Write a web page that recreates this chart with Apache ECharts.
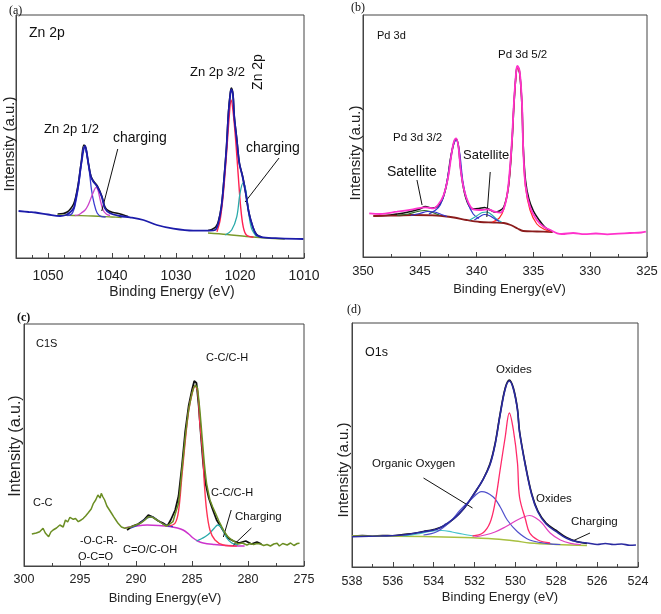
<!DOCTYPE html>
<html><head><meta charset="utf-8">
<script src="https://cdn.jsdelivr.net/npm/echarts@6/dist/echarts.min.js"></script>
<style>html,body{margin:0;padding:0;background:#fff}#c{width:661px;height:614px}</style>
</head><body><div id="c"></div>
<script>
// ---------- Panel (a) Zn 2p ----------
const aRaw1 = [[1048.5,44],[1047.6,44.5],[1047.0,46],[1046.5,49],[1046.0,54],[1045.7,60],[1045.3,73],[1044.8,96],[1044.4,113],[1044.1,110],[1043.7,95],[1043.3,82],[1042.9,77],[1042.3,72],[1041.6,62],[1041.1,51],[1040.5,47],[1039.8,45.5],[1039.0,44.5],[1038.2,43],[1037.5,41.5]];
const aRaw2 = [[1025.0,27.5],[1024.4,28.5],[1023.8,31],[1023.4,36],[1022.9,52],[1022.5,79],[1022.1,112],[1021.8,146],[1021.5,166],[1021.35,170],[1021.1,164],[1020.9,142],[1020.5,119],[1020.1,95],[1019.6,82],[1019.1,65],[1018.6,45],[1018.0,31],[1017.4,23.5],[1016.6,21]];
const aEnvelope = [[1054.6,47],[1053,46],[1052,45.5],[1050,43.5],[1048.1,42],[1047.2,43],[1046.6,45.5],[1046.0,49.7],[1045.8,55],[1045.3,71.3],[1044.8,94.7],[1044.2,112.3],[1043.7,94.7],[1043.3,81.3],[1042.9,76.3],[1042.3,71.3],[1041.6,61.3],[1041.1,49.7],[1040.3,44.7],[1038.8,42],[1037.2,40.7],[1035.1,38],[1033.0,33],[1030.4,29.3],[1027.3,27.3],[1024.7,27.3],[1023.9,28],[1023.4,34.7],[1022.9,51.3],[1022.5,78],[1022.1,111.3],[1021.8,144.7],[1021.5,164.7],[1021.35,168.7],[1021.1,163],[1020.9,141.3],[1020.5,118],[1020.1,94.7],[1019.6,81.3],[1019.1,64.7],[1018.6,44.7],[1018.0,31.3],[1017.4,23],[1016.4,20.7],[1013.75,19.7],[1010.1,19]];
const aBlueComp = [[1047.0,42.5],[1046.3,44],[1045.8,52],[1045.3,69],[1044.8,93],[1044.4,111],[1044.1,108],[1043.7,95],[1043.5,84.7],[1043.2,68],[1042.8,54.7],[1042.3,44.7],[1041.6,41.3],[1041.0,41]];
const aMagenta = [[1045.8,42.5],[1045.3,43],[1044.8,45],[1044.2,48],[1043.8,52],[1043.4,58],[1042.9,66],[1042.5,70.7],[1042.2,68],[1041.9,59.7],[1041.4,48],[1040.9,44],[1040.3,42.5]];
const aRed = [[1023.6,26.3],[1023.1,38],[1022.6,64.7],[1022.1,104.7],[1021.7,140],[1021.4,158],[1021.05,144.7],[1020.6,111.3],[1020.3,84.7],[1019.9,51.3],[1019.5,31.3],[1019.0,23],[1017.9,20.7]];
const aCyan = [[1022.3,23],[1021.3,28],[1020.5,41.3],[1020.0,64.7],[1019.5,75.3],[1019.1,68],[1018.7,48],[1018.2,29.7],[1017.4,21.3]];
const aBg1 = [[1048.5,43],[1046,42.5],[1043,42],[1040,41],[1038.5,40.5]];
const aBg2 = [[1025.0,25],[1022,23.5],[1019,21.5],[1016,20],[1013,19]];
const aArrows = [[[1041.6,47],[1039.1,109]],[[1019.2,56],[1013.9,100]]];

// ---------- Panel (b) Pd 3d ----------
const bEnvelope = [[349.45,43.7],[348.5,43],[347.0,45.3],[345.6,47.7],[344.5,49.7],[343.8,48.7],[343.4,52],[342.9,62],[342.5,80.3],[342.2,103.7],[342.0,115.3],[341.8,118.7],[341.6,110.3],[341.4,87],[341.1,67],[340.7,53.7],[340.3,47.7],[339.55,47],[339.0,47.7],[338.4,45.3],[337.9,44.3],[337.5,52],[337.2,72],[336.9,115],[336.7,157],[336.5,187],[336.4,191],[336.2,185],[336.0,152],[335.9,110],[335.7,72],[335.3,50.3],[334.7,37],[334.1,30.3],[333.5,27],[332.9,23.7],[332.5,23],[331.5,24],[330.5,22.8],[329.5,23.5],[328.5,22.7],[327.5,23.4],[326.5,24],[325.5,24.5],[325.1,25.3]];
const bRaw = [[349.0,41],[348.0,41.5],[347.0,43],[346.0,45],[345.0,48],[344.5,50.5],[344.0,49],[343.5,50],[343.0,58],[342.6,75],[342.3,98],[342.0,114],[341.8,118],[341.6,111],[341.4,88],[341.1,66],[340.7,52],[340.3,48],[339.8,48.5],[339.3,49.5],[338.8,47],[338.4,45],[338.0,46],[337.6,50],[337.2,70],[336.9,112],[336.7,155],[336.5,186],[336.4,190],[336.2,183],[336.0,150],[335.9,112],[335.7,77],[335.4,58],[335.0,46],[334.5,37],[334.0,30],[333.5,26]];
const bBackground = [[349.1,41],[347,41.5],[345.6,42],[343.5,41.5],[342.0,39.5],[340.9,37],[339.7,35],[338.5,34.5],[337.6,34],[337.0,32],[336.4,28.5],[335.9,26],[334.7,25.5],[333.3,25]];
const bRed = [[338.6,35],[338.0,39],[337.6,48],[337.2,70],[336.9,112],[336.7,155],[336.5,185],[336.4,189],[336.2,183],[336.0,150],[335.9,108],[335.7,70],[335.3,47],[334.7,33],[334.0,27.5],[333.5,25.5]];
const bBlue = [[344.2,43],[343.6,47],[343.2,52],[342.8,65],[342.4,90],[342.1,110],[341.8,117],[341.5,105],[341.2,75],[340.8,55],[340.3,43],[339.8,38.5]];
const bSatGreen = [[347.0,41.5],[346.0,43],[345.2,45.5],[344.6,46.5],[344.0,45],[343.3,42]];
const bSatBlue = [[345.8,41.5],[345.0,43.5],[344.3,45.5],[343.7,45],[343.1,42.5],[342.6,40.5]];
const bSatCyan = [[340.6,37],[340.0,41],[339.5,44.5],[339.1,45],[338.7,42.5],[338.2,37.5],[337.8,35]];
const bSatBlue2 = [[340.2,37],[339.7,40.5],[339.3,42.5],[338.9,41.5],[338.4,38],[338.0,35.5]];
const bArrows = [[[344.8,52],[345.25,77]],[[339.1,40],[338.8,85]]];

// ---------- Panel (c) C1s ----------
const cData = [[299.3,32],[298.9,33],[298.6,34.3],[298.3,37.7],[298.1,33],[297.8,29.3],[297.6,34],[297.4,36],[297.1,38],[296.8,41],[296.5,39],[296.3,46],[296.1,44],[295.9,48.7],[295.6,46.7],[295.4,47.5],[295.15,44.3],[294.9,46],[294.7,47.7],[294.5,50],[294.3,52.7],[294.0,57],[293.8,62.7],[293.6,66],[293.4,71],[293.2,68],[293.1,72.7],[292.95,69],[292.8,66],[292.6,60],[292.5,59.3],[292.2,53],[292.0,49.3],[291.8,46],[291.6,42.7],[291.3,39],[291.0,37.7],[290.7,38.5],[290.4,39.3],[290.0,41],[289.6,42.7],[289.2,46],[288.9,49.3],[288.5,48.7],[288.2,46.5],[287.9,44.3],[287.6,42],[287.3,40],[287.1,41],[286.7,44.3],[286.5,52],[286.2,62.7],[286.05,78],[285.9,96],[285.75,112],[285.6,129.3],[285.45,143],[285.3,156],[285.15,165],[285.0,172.7],[284.85,178],[284.7,181],[284.6,182.7],[284.5,177.7],[284.4,167],[284.3,156],[284.2,143],[284.1,129.3],[284.0,116],[283.9,102.7],[283.8,92],[283.7,82.7],[283.55,74],[283.4,66],[283.15,59],[282.9,52.7],[282.6,45],[282.35,39.3],[282.1,34],[281.8,29.3],[281.5,26.5],[281.2,24.3],[280.9,22],[280.5,23],[280.1,21],[279.8,22.5],[279.5,21.5],[279.2,22.5],[278.9,22],[278.6,20.5],[278.3,21.5],[278.0,20],[277.7,22],[277.4,22.7],[277.2,20],[276.9,22.5],[276.5,21],[276.2,23],[275.9,20.5],[275.6,22.5],[275.4,22.7]];
const cRaw = [[290.8,36],[290.3,40],[289.8,42],[289.3,46],[288.9,51],[288.5,49],[288.0,45],[287.6,43],[287.2,40],[286.9,46],[286.5,56],[286.2,70],[285.9,100],[285.6,135],[285.3,160],[285.0,176],[284.8,185],[284.6,183],[284.4,160],[284.2,130],[284.0,102],[283.8,83],[283.5,68],[283.2,58],[282.8,46],[282.3,37],[281.8,28],[281.3,25],[280.8,23],[280.2,25],[279.7,22],[279.2,24],[278.8,22]];
const cBackground = [[291.0,38],[290.0,40],[289.0,41],[288.0,40.5],[287.0,39.5],[286.3,38],[285.8,36],[285.3,32],[284.9,28],[284.5,25],[284.0,23],[283.0,21.5],[282.0,20.5],[281.0,20],[280.3,20]];
const cRed = [[287.0,40],[286.5,43],[286.2,55],[285.9,90],[285.6,125],[285.3,155],[285.0,172],[284.75,180],[284.5,175],[284.3,143],[284.05,113],[283.9,83],[283.7,56],[283.4,36],[282.95,26],[282.2,21],[281.0,20]];
const cCyan = [[284.6,25],[284.2,27],[283.8,29.5],[283.4,33],[283.0,38],[282.7,41],[282.35,38],[281.9,28],[281.45,23],[280.9,21]];
const cBlue = [[290.5,38],[290.0,40],[289.5,44],[289.0,48],[288.6,49],[288.1,46],[287.6,42],[287.1,40],[286.7,39.5]];
const cArrows = [[[282.2,29],[281.5,56]],[[281.3,21],[279.7,38]]];

// ---------- Panel (d) O1s ----------
const dEnvelope = [[538.0,30.3],[536.6,31],[535.5,32],[534.5,35.3],[533.85,37.7],[533.4,43],[532.9,50.3],[532.4,62],[531.9,77],[531.6,87],[531.25,102],[531.0,122],[530.75,152],[530.5,178],[530.3,186],[530.1,178],[529.9,157],[529.8,135],[529.5,100],[529.2,72],[528.9,55],[528.5,43],[528.0,35.3],[527.5,28.7],[527.0,25.3],[526.4,23.7],[526.0,22.5],[525.6,23.5],[525.2,22.5],[524.8,23],[524.4,21.8],[524.1,22]];
const dRaw = [[538.0,31],[537.5,31.5],[537.0,30.8],[536.5,31.5],[536.0,31.2],[535.5,32.5],[535.0,33.5],[534.5,35.5],[534.0,37.5],[533.5,41],[533.0,48.5],[532.5,59],[532.0,74],[531.6,87],[531.25,103],[531.0,123],[530.75,153],[530.5,179],[530.3,187],[530.1,179],[529.9,158],[529.8,136],[529.5,101],[529.2,73],[528.9,56],[528.5,44],[528.0,36.5],[527.5,29.5],[527.0,25.5],[526.5,23.5]];
const dRed = [[532.1,31],[531.6,34],[531.25,44],[531.0,64],[530.75,97],[530.5,130],[530.3,154],[530.1,137],[529.9,104],[529.8,70],[529.5,47],[529.3,34],[528.9,27],[528.3,24]];
const dMagenta = [[532.0,30],[531.5,32],[531.0,35],[530.5,40],[530.0,46],[529.6,50],[529.3,51.5],[529.0,49],[528.7,44],[528.3,34],[527.8,27],[527.3,23.7],[526.8,22.5]];
const dBlue = [[534.5,32],[533.85,35.3],[533.2,45.3],[532.7,57],[532.2,67],[531.65,75.3],[531.1,70.3],[530.75,60.3],[530.4,47],[529.9,35.3],[529.3,27],[528.5,23.7],[527.8,22.5]];
const dCyan = [[535.5,31],[534.8,33],[534.2,35.5],[533.6,36.5],[533.1,35],[532.6,33],[532.0,31]];
const dBackground = [[538,31],[534.5,30.5],[532.5,29.5],[531.0,28],[530,26],[529.3,24],[528,22.5],[526.5,21.5]];
const dArrows = [[[532.1,59],[534.5,89]],[[527.2,26],[526.35,34]]];

// ---------- axes ----------
const xRanges = [[1010,1055,10,4],[325,350,5,2],[275,300,5,2],[524,538,2,2]];
const grids = [
  {left:16, top:15, width:288, height:243},
  {left:363, top:15, width:284, height:242},
  {left:24, top:324, width:280, height:242},
  {left:352, top:323, width:286, height:244}
];
const xNames = ['Binding Energy (eV)','Binding Energy(eV)','Binding Energy(eV)','Binding Energy (eV)'];
const SANS = 'Liberation Sans, Arial, sans-serif';
const labelSize = [14,13,12.5,12.5];
const labelMargin = [11,8,7,8];

const chart = echarts.init(document.getElementById('c'), null, {renderer:'canvas'});
const xAxis = xRanges.map((r,i)=>({
  type:'value', gridIndex:i, min:r[0], max:r[1], interval:r[2], inverse:true,
  axisLine:{show:true, lineStyle:{color:'#444', width:1}},
  axisTick:{show:true, inside:true, length:5, lineStyle:{color:'#444'}},
  minorTick:{show:true, splitNumber:r[3], length:3, lineStyle:{color:'#444'}},
  axisLabel:{fontFamily:SANS, fontSize:labelSize[i], color:'#222', margin:labelMargin[i],
    showMaxLabel: i!==0, showMinLabel:true, formatter:(v)=>String(v)},
  splitLine:{show:false}
}));
const yAxis = grids.map((g,i)=>({
  type:'value', gridIndex:i, min:0, max:g.height,
  axisLine:{show:true, lineStyle:{color:'#444', width:1}},
  axisTick:{show:false}, axisLabel:{show:false}, splitLine:{show:false}
}));

function ln(gi, data, color, w, z, smooth){
  return {type:'line', xAxisIndex:gi, yAxisIndex:gi, data:data, symbol:'none', showSymbol:false,
    smooth: smooth===undefined ? 0.35 : smooth, lineStyle:{color:color, width:w}, z:z, silent:true};
}
function arrows(gi, list){
  return {type:'line', xAxisIndex:gi, yAxisIndex:gi, data:[], symbol:'none', silent:true, z:10,
    markLine:{silent:true, symbol:['none','arrow'], symbolSize:[0,7], label:{show:false},
      lineStyle:{color:'#111', width:1, type:'solid'},
      data:list.map(a=>[{coord:a[0]},{coord:a[1]}])}};
}

const series = [
  // a
  ln(0,aRaw1,'#111',1.6,2),
  ln(0,aRaw2,'#111',1.6,2),
  ln(0,aBg1,'#7a9a2a',1.3,3),
  ln(0,aBg2,'#7a9a2a',1.3,3),
  ln(0,aBlueComp,'#3c3cd0',1.3,4),
  ln(0,aMagenta,'#cc44cc',1.3,4),
  ln(0,aRed,'#ff2050',1.4,4),
  ln(0,aCyan,'#2aaaaa',1.3,4),
  ln(0,aEnvelope,'#1c1caa',1.8,5),
  arrows(0,aArrows),
  // b
  ln(1,bRaw,'#111',1.6,2),
  ln(1,bBackground,'#8b1c1c',1.8,3),
  ln(1,bRed,'#ff2a2a',1.2,3),
  ln(1,bBlue,'#3333cc',1.2,3),
  ln(1,bSatGreen,'#2a6e2a',1.2,3),
  ln(1,bSatBlue,'#3333cc',1.2,3),
  ln(1,bSatCyan,'#2ab0b0',1.2,3),
  ln(1,bSatBlue2,'#3333cc',1.2,3),
  ln(1,bEnvelope,'#ff33cc',1.8,5),
  arrows(1,bArrows),
  // c
  ln(2,cRaw,'#111',1.8,2,false),
  ln(2,cBackground,'#cc33cc',1.5,3),
  ln(2,cBlue,'#3333cc',1.3,3),
  ln(2,cCyan,'#2aaaaa',1.3,3),
  ln(2,cRed,'#ff3355',1.4,4),
  ln(2,cData,'#6b8e23',1.5,5,false),
  arrows(2,cArrows),
  // d
  ln(3,dRaw,'#111',1.6,2),
  ln(3,dBackground,'#a8c040',1.3,3),
  ln(3,dCyan,'#44c4cc',1.2,3),
  ln(3,dBlue,'#5050cc',1.2,3),
  ln(3,dMagenta,'#e040c0',1.2,3),
  ln(3,dRed,'#ff2a6a',1.3,4),
  ln(3,dEnvelope,'#2a2aa0',1.6,5),
  arrows(3,dArrows)
];

function txt(x,y,t,size,opts){
  opts = opts||{};
  return {type:'text', x:x, y:y, rotation:opts.rot||0, z:20, silent:true,
    style:{text:t, font:(opts.weight||'normal')+' '+size+'px '+(opts.family||SANS), fill:opts.fill||'#111',
      align:opts.align||'left', verticalAlign:'middle'}};
}
const SERIF = 'Liberation Serif, Times New Roman, serif';
const ROT = {rot:Math.PI/2, align:'center', fill:'#222'};
const MID = {align:'center', fill:'#222'};
const graphic = [
  // axis titles
  txt(9.5,144,'Intensity (a.u.)',15,ROT),
  txt(355.5,153,'Intensity (a.u.)',15,ROT),
  txt(16,446,'Intensity (a.u.)',16,ROT),
  txt(343.5,470,'Intensity (a.u.)',15,ROT),
  txt(172,292,xNames[0],14,MID),
  txt(509.5,289,xNames[1],13,MID),
  txt(165,598.5,xNames[2],13,MID),
  txt(500,597.5,xNames[3],13,MID),
  // annotations
  txt(9,11,'(a)',12,{family:SERIF}),
  txt(29,33,'Zn 2p',14),
  txt(44,129,'Zn 2p 1/2',13),
  txt(113,138,'charging',14),
  txt(190,72,'Zn 2p 3/2',13),
  txt(258,72,'Zn 2p',14,{rot:Math.PI/2, align:'center'}),
  txt(246,148,'charging',14),
  txt(351,8,'(b)',12,{family:SERIF}),
  txt(377,35.5,'Pd 3d',11),
  txt(498,54.5,'Pd 3d 5/2',11.5),
  txt(393,138,'Pd 3d 3/2',11.5),
  txt(387,172.5,'Satellite',14),
  txt(463,155,'Satellite',13),
  txt(17,318,'(c)',12,{family:SERIF, weight:'bold'}),
  txt(36,344,'C1S',11),
  txt(206,358,'C-C/C-H',11),
  txt(211,493,'C-C/C-H',11),
  txt(235,517,'Charging',11.5),
  txt(33,502.5,'C-C',11),
  txt(80,541,'-O-C-R-',10.5),
  txt(78,556.5,'O-C=O',11),
  txt(123,549.5,'C=O/C-OH',11),
  txt(347,310,'(d)',12,{family:SERIF}),
  txt(365,352.5,'O1s',12.5),
  txt(496,370,'Oxides',11.5),
  txt(372,464,'Organic Oxygen',11.5),
  txt(536,498.5,'Oxides',11.5),
  txt(571,521.5,'Charging',11.5)
];

chart.setOption({
  animation:false,
  backgroundColor:'#fff',
  grid: grids.map(g=>Object.assign({show:true, borderColor:'#444', borderWidth:1, backgroundColor:'transparent', containLabel:false}, g)),
  xAxis: xAxis, yAxis: yAxis, series: series, graphic: graphic
});
</script></body></html>
